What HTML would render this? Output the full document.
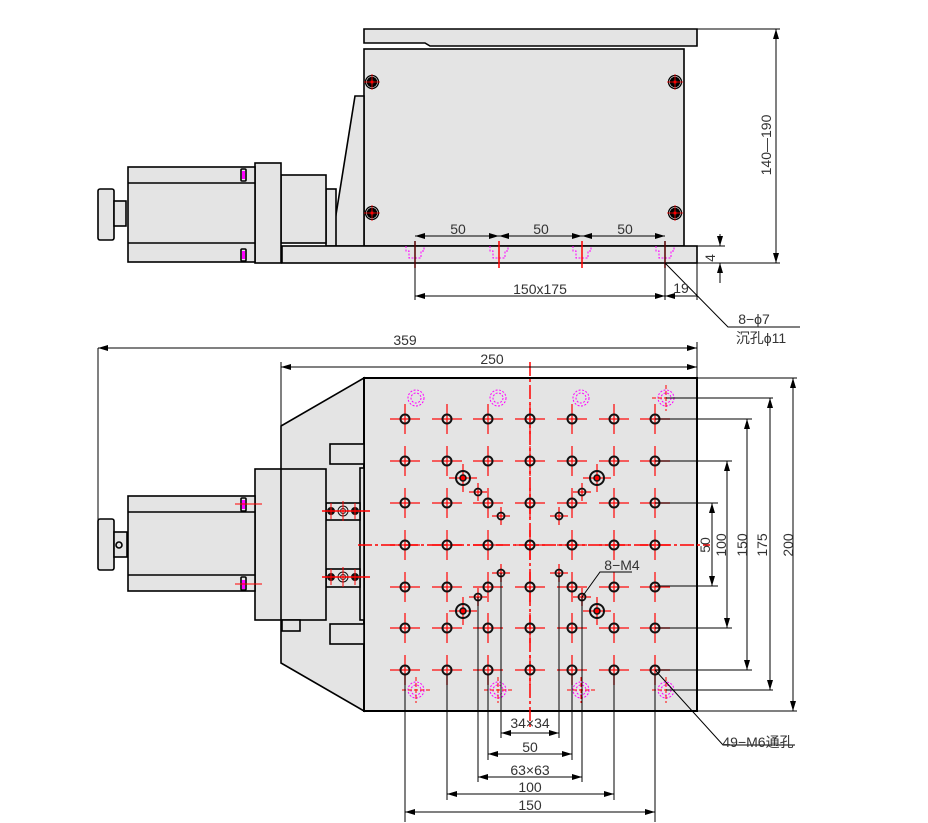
<!DOCTYPE html>
<html><head><meta charset="utf-8"><style>
html,body{margin:0;padding:0;background:#fff;}
svg{display:block;font-family:"Liberation Sans","Noto Sans CJK SC",sans-serif;}
</style></head><body>
<svg id="s" width="928" height="823" viewBox="0 0 928 823" xmlns="http://www.w3.org/2000/svg">
<defs>
<marker id="a" viewBox="0 0 10 6" refX="10" refY="3" markerWidth="10" markerHeight="6" orient="auto-start-reverse" markerUnits="userSpaceOnUse"><path d="M0,0 L10,3 L0,6z" fill="#000"/></marker>
</defs>
<g fill="#e4e4e4" stroke="#000" stroke-width="1.6">
<path d="M364,29 H697 V46 H430 L425,43 H364 Z"/>
<rect x="364" y="49" width="320" height="197"/>
<path d="M331,246 L355,96 H364 V246 Z"/>
<rect x="326" y="189" width="10" height="57"/>
<rect x="281" y="175" width="45" height="68"/>
<rect x="282" y="246" width="415" height="17"/>
<rect x="255" y="163" width="26" height="100"/>
<rect x="128" y="167" width="127" height="95"/>
<line x1="128" y1="183" x2="255" y2="183"/>
<line x1="128" y1="243" x2="255" y2="243"/>
<rect x="98" y="189" width="16" height="51" rx="2"/>
<rect x="114" y="201" width="12" height="25"/>
<rect x="241" y="169" width="5" height="12" rx="1"/>
<rect x="241" y="249" width="5" height="12" rx="1"/>
<path d="M364,378 L281,426 V663 L364,711 Z"/>
<rect x="364" y="378" width="333" height="333" stroke-width="2"/>
<rect x="330" y="444" width="34" height="20"/>
<rect x="330" y="624" width="34" height="20"/>
<rect x="360" y="468" width="4" height="152"/>
<rect x="326" y="503" width="34" height="17"/>
<rect x="326" y="569" width="34" height="18"/>
<rect x="255" y="469" width="71" height="151"/>
<line x1="281" y1="469" x2="281" y2="620"/>
<rect x="282" y="620" width="18" height="11"/>
<rect x="128" y="496" width="127" height="95"/>
<line x1="128" y1="512" x2="255" y2="512"/>
<line x1="128" y1="575" x2="255" y2="575"/>
<rect x="98" y="519" width="16" height="51" rx="2"/>
<rect x="114" y="532" width="13" height="25"/>
<circle cx="119" cy="545" r="3"/>
<rect x="241" y="498" width="5" height="13" rx="1"/>
<rect x="241" y="577" width="5" height="13" rx="1"/>
</g>
<g fill="#f0f" stroke="none"><rect x="242" y="171" width="3" height="8"/><rect x="242" y="251" width="3" height="8"/><rect x="242" y="500" width="3" height="9"/><rect x="242" y="580" width="3" height="9"/></g>
<g id="dyn"></g>
<g stroke="#000" stroke-width="1" fill="none">
<line x1="415" y1="241" x2="415" y2="300"/><line x1="665" y1="241" x2="665" y2="300"/>
<line x1="415" y1="236" x2="499" y2="236" marker-start="url(#a)" marker-end="url(#a)"/>
<line x1="499" y1="236" x2="582" y2="236" marker-start="url(#a)" marker-end="url(#a)"/>
<line x1="582" y1="236" x2="665" y2="236" marker-start="url(#a)" marker-end="url(#a)"/>
<line x1="415" y1="296" x2="665" y2="296" marker-start="url(#a)" marker-end="url(#a)"/>
<line x1="665" y1="296" x2="697" y2="296" marker-start="url(#a)"/>
<line x1="697" y1="263" x2="697" y2="300"/>
<line x1="684" y1="246" x2="725" y2="246"/><line x1="697" y1="263" x2="780" y2="263"/>
<line x1="720" y1="234" x2="720" y2="246" marker-end="url(#a)"/>
<line x1="720" y1="283" x2="720" y2="263" marker-end="url(#a)"/>
<line x1="697" y1="29" x2="780" y2="29"/>
<line x1="776" y1="29" x2="776" y2="263" marker-start="url(#a)" marker-end="url(#a)"/>
<polyline points="665,263 728,327 800,327"/>
<line x1="98" y1="348" x2="697" y2="348" marker-start="url(#a)" marker-end="url(#a)"/>
<line x1="98" y1="348" x2="98" y2="520"/><line x1="697" y1="342" x2="697" y2="378"/>
<line x1="281" y1="367" x2="697" y2="367" marker-start="url(#a)" marker-end="url(#a)"/>
<line x1="281" y1="362" x2="281" y2="426"/>
<line x1="697" y1="378" x2="797" y2="378"/><line x1="697" y1="711" x2="797" y2="711"/>
<line x1="666" y1="398" x2="773" y2="398"/><line x1="666" y1="690" x2="773" y2="690"/>
<line x1="655" y1="419" x2="752" y2="419"/><line x1="655" y1="670" x2="752" y2="670"/>
<line x1="655" y1="461" x2="732" y2="461"/><line x1="655" y1="628" x2="732" y2="628"/>
<line x1="655" y1="503" x2="718" y2="503"/><line x1="655" y1="586" x2="718" y2="586"/>
<line x1="793" y1="378" x2="793" y2="711" marker-start="url(#a)" marker-end="url(#a)"/>
<line x1="770" y1="398" x2="770" y2="690" marker-start="url(#a)" marker-end="url(#a)"/>
<line x1="747" y1="419" x2="747" y2="670" marker-start="url(#a)" marker-end="url(#a)"/>
<line x1="727" y1="461" x2="727" y2="628" marker-start="url(#a)" marker-end="url(#a)"/>
<line x1="712" y1="503" x2="712" y2="586" marker-start="url(#a)" marker-end="url(#a)"/>
<line x1="405" y1="675" x2="405" y2="822"/><line x1="655" y1="675" x2="655" y2="822"/>
<line x1="447" y1="675" x2="447" y2="800"/><line x1="614" y1="675" x2="614" y2="800"/>
<line x1="478" y1="597" x2="478" y2="782"/><line x1="582" y1="597" x2="582" y2="782"/>
<line x1="488" y1="675" x2="488" y2="760"/><line x1="572" y1="675" x2="572" y2="760"/>
<line x1="501" y1="573" x2="501" y2="738"/><line x1="559" y1="573" x2="559" y2="738"/>
<line x1="501" y1="733" x2="559" y2="733" marker-start="url(#a)" marker-end="url(#a)"/>
<line x1="488" y1="754" x2="572" y2="754" marker-start="url(#a)" marker-end="url(#a)"/>
<line x1="478" y1="777" x2="582" y2="777" marker-start="url(#a)" marker-end="url(#a)"/>
<line x1="447" y1="794" x2="614" y2="794" marker-start="url(#a)" marker-end="url(#a)"/>
<line x1="405" y1="812" x2="655" y2="812" marker-start="url(#a)" marker-end="url(#a)"/>
<polyline points="655,670 723,745 795,745"/>
<polyline points="582,597 600,572 632,572"/>
</g>
<g font-size="14" fill="#333" text-anchor="middle">
<text x="458" y="234">50</text><text x="541" y="234">50</text><text x="625" y="234">50</text>
<text x="540" y="294">150x175</text><text x="681" y="293">19</text>
<text x="405" y="345">359</text><text x="492" y="364">250</text>
<text x="754" y="324">8−ϕ7</text><text x="761" y="343">沉孔ϕ11</text>
<text x="622" y="570">8−M4</text><text x="758" y="747">49−M6通孔</text>
<text x="530" y="728">34×34</text><text x="530" y="752">50</text><text x="530" y="775">63×63</text>
<text x="530" y="792">100</text><text x="530" y="810">150</text>
<text transform="translate(715,258) rotate(-90)">4</text>
<text transform="translate(771,145) rotate(-90)">140—190</text>
<text transform="translate(710,545) rotate(-90)">50</text>
<text transform="translate(726,545) rotate(-90)">100</text>
<text transform="translate(747,545) rotate(-90)">150</text>
<text transform="translate(767,545) rotate(-90)">175</text>
<text transform="translate(793,545) rotate(-90)">200</text>
</g>
</svg>
<script>
var g=document.getElementById('dyn'),h='';
function L(x1,y1,x2,y2,c,w,d){h+='<line x1="'+x1+'" y1="'+y1+'" x2="'+x2+'" y2="'+y2+'" stroke="'+c+'" stroke-width="'+w+'"'+(d?' stroke-dasharray="'+d+'"':'')+'/>';}
function C(x,y,r,c,w,f,d){h+='<circle cx="'+x+'" cy="'+y+'" r="'+r+'" stroke="'+c+'" stroke-width="'+w+'" fill="'+(f||'none')+'"'+(d?' stroke-dasharray="'+d+'"':'')+'/>';}
[415,499,582,665].forEach(function(x){
 h+='<path d="M'+(x-9)+',246 V251 H'+(x-6)+' V258 H'+(x+6)+' V251 H'+(x+9)+' V246" fill="none" stroke="#f0f" stroke-width="1" stroke-dasharray="2,1.5"/>';
 L(x,241,x,268,'#f00',1.5);
});
[[372,82],[372,213],[675,82],[675,213]].forEach(function(p){C(p[0],p[1],6.5,'#000',1.3,'#e4e4e4');C(p[0],p[1],4,'#000',2.5,'#111');C(p[0],p[1],1.5,'none',0,'#f00');L(p[0]-8,p[1],p[0]+8,p[1],'#f00',0.8);L(p[0],p[1]-8,p[0],p[1]+8,'#f00',0.8);});
L(358,545,710,545,'#f00',1.5,'14,3,3,3');L(530,362,530,728,'#f00',1.5,'14,3,3,3');
var X=[405,447,488,530,572,614,655],Y=[419,461,503,545,587,628,670];
X.forEach(function(x){Y.forEach(function(y){L(x-15,y,x+15,y,'rgba(255,0,0,0.8)',1.5);L(x,y-15,x,y+15,'rgba(255,0,0,0.8)',1.5);C(x,y,4.5,'#111',2);});});
[416,498,581,666].forEach(function(x){[398,690].forEach(function(y){C(x,y,8,'#f0f',1,null,'2,1.5');C(x,y,5,'#f0f',1,null,'2,1.5');});});
[[666,398],[416,690],[498,690],[581,690],[666,690]].forEach(function(p){L(p[0]-14,p[1],p[0]+14,p[1],'#f00',1,'4,2');L(p[0],p[1]-13,p[0],p[1]+13,'#f00',1,'4,2');});
[[463,478],[597,478],[463,611],[597,611]].forEach(function(p){L(p[0]-14,p[1],p[0]+14,p[1],'rgba(255,0,0,0.8)',1.5);L(p[0],p[1]-14,p[0],p[1]+14,'rgba(255,0,0,0.8)',1.5);C(p[0],p[1],7,'#111',2);C(p[0],p[1],3,'#111',1.5,'#f00');});
[[478,492],[501,516],[559,516],[582,492],[501,573],[478,597],[559,573],[582,597]].forEach(function(p){L(p[0]-9,p[1],p[0]+9,p[1],'rgba(255,0,0,0.8)',1.5);L(p[0],p[1]-9,p[0],p[1]+9,'rgba(255,0,0,0.8)',1.5);C(p[0],p[1],3.5,'#111',1.8);});
[511,577].forEach(function(y){[331,355].forEach(function(x){C(x,y,3.5,'#111',1,'#111');});C(343,y,5,'#111',1);C(343,y,2.5,'#111',1);L(322,y,370,y,'#f00',1.5);L(331,y-8,331,y+8,'#f00',1);L(343,y-10,343,y+10,'#f00',1);L(355,y-8,355,y+8,'#f00',1);});
L(235,504,262,504,'#f00',1);L(235,584,262,584,'#f00',1);
g.innerHTML=h;
</script>
</body></html>
